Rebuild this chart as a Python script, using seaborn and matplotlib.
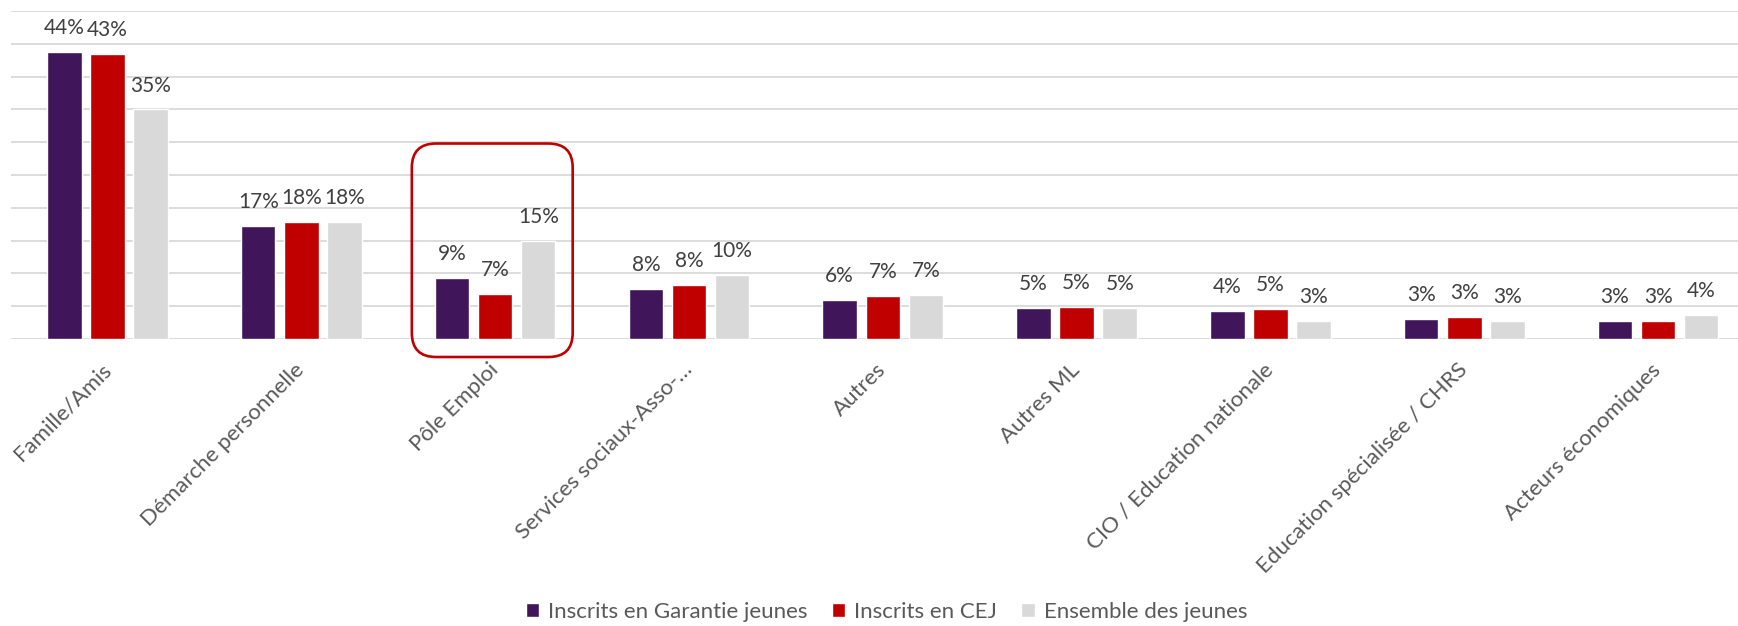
import pandas as pd
import matplotlib.pyplot as plt
import seaborn as sns
from matplotlib.patches import FancyBboxPatch

# --- DATA ---
categories = ["Famille/Amis", "Démarche personnelle", "Pôle Emploi",
              "Services sociaux-Asso-…", "Autres", "Autres ML",
              "CIO / Education nationale", "Education spécialisée / CHRS",
              "Acteurs économiques"]
series = ["Inscrits en Garantie jeunes", "Inscrits en CEJ", "Ensemble des jeunes"]
garantie = [43.75, 17.2, 9.3, 7.6, 5.9, 4.7, 4.3, 3.0, 2.7]
cej = [43.4, 17.8, 6.9, 8.2, 6.6, 4.9, 4.6, 3.35, 2.7]
ensemble = [35.0, 17.8, 14.9, 9.8, 6.7, 4.7, 2.7, 2.7, 3.7]
colors = ["#40155A", "#C00000", "#D9D9D9"]
highlight = "Pôle Emploi"

df = pd.DataFrame({
    "cat": categories * 3,
    "serie": [series[0]] * 9 + [series[1]] * 9 + [series[2]] * 9,
    "val": garantie + cej + ensemble,
})

# --- STYLE ---
sns.set_theme(style="white")
plt.rcParams["font.family"] = ["Lato", "DejaVu Sans"]

fig = plt.figure(figsize=(17.38, 6.26), dpi=100)
ax = fig.add_axes([0.0061, 0.4585, 1.0098 - 0.0061, 0.9824 - 0.4585])

sns.barplot(data=df, x="cat", y="val", hue="serie", palette=colors,
            width=0.667, gap=0.2, saturation=1, ax=ax)

ax.set_ylim(0, 50)
ax.set_yticks(range(0, 51, 5))
ax.set_yticklabels([])
ax.tick_params(axis="y", length=0)
ax.yaxis.grid(True, color="#D9D9D9", linewidth=1.3)
ax.set_axisbelow(True)
for s in ax.spines.values():
    s.set_visible(False)
ax.set_xlabel("")
ax.set_ylabel("")
ax.set_xlim(-0.5, len(categories) - 0.5)

# tick labels
ax.tick_params(axis="x", length=0, pad=20)
for lbl in ax.get_xticklabels():
    lbl.set_rotation(45)
    lbl.set_ha("right")
    lbl.set_va("center")
    lbl.set_rotation_mode("anchor")
    lbl.set_fontsize(16)
    lbl.set_color("#595959")

# data labels
for c in ax.containers:
    ax.bar_label(c, fmt="{:.0f}%", padding=10, fontsize=15, color="#404040")

# legend
handles, labels = ax.get_legend_handles_labels()
ax.get_legend().remove()
fig.legend(handles, labels, loc="center", bbox_to_anchor=(0.51, 0.022), ncol=3,
           frameon=False, fontsize=16, handlelength=0.6, handleheight=0.6,
           handletextpad=0.4, columnspacing=1.1, labelcolor="#595959")

# highlight box round Pole Emploi
i = categories.index(highlight)
top = max(garantie[i], cej[i], ensemble[i]) * 2.0
x_px = ax.transData.transform((1, 0))[0] - ax.transData.transform((0, 0))[0]
y_px = ax.transData.transform((0, 1))[1] - ax.transData.transform((0, 0))[1]
box = FancyBboxPatch((i - 0.43, -2.75), 0.83, top + 2.75,
                     boxstyle="round,pad=0,rounding_size=0.125",
                     mutation_aspect=x_px / y_px,
                     fill=False, edgecolor="#C00000", linewidth=1.9,
                     clip_on=False, zorder=5)
ax.add_patch(box)

fig.savefig("out.png", dpi=100)
